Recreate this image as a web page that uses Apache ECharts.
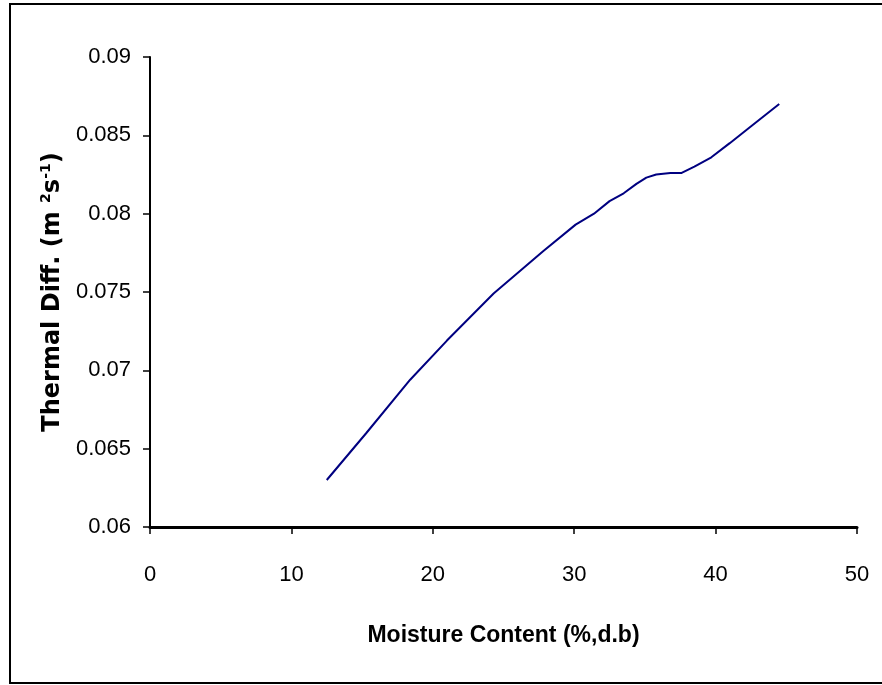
<!DOCTYPE html>
<html>
<head>
<meta charset="utf-8">
<script src="https://cdn.jsdelivr.net/npm/echarts@6/dist/echarts.min.js"></script>
<style>
  html, body { margin: 0; padding: 0; background: #fff; }
  #chart { width: 882px; height: 685px; }
</style>
</head>
<body>
<div id="chart"></div>
<script>
// moisture content (%, d.b) and thermal diffusivity
const moisture = [12.5, 15.3, 18.4, 21.0, 24.3, 27.8, 30.1, 31.4, 32.5, 33.5, 34.4, 35.1, 35.8, 36.8, 37.6, 38.5, 39.7, 41.0, 42.4, 44.5]
const thermalDiff = [0.0630, 0.0660, 0.0694, 0.0719, 0.0749, 0.0776, 0.0793, 0.0800, 0.0808, 0.0813, 0.0819, 0.0823, 0.0825, 0.0826, 0.0826, 0.0830, 0.0836, 0.0845, 0.0855, 0.0870]

const tickFont = "'Liberation Sans Narrow', 'Arial Narrow', 'Liberation Sans', sans-serif"

function getOptions() {
  return {
    animation: false,
    backgroundColor: '#fff',
    grid: {
      left: 150,
      right: 25,
      top: 57,
      bottom: 158
    },
    graphic: [
      {
        type: 'rect',
        shape: { x: 10, y: 4, width: 880, height: 679 },
        style: { fill: 'none', stroke: '#000', lineWidth: 2 },
        silent: true
      }
    ],
    xAxis: {
      type: 'value',
      min: 0,
      max: 50,
      interval: 10,
      name: 'Moisture Content (%,d.b)',
      nameLocation: 'middle',
      nameGap: 97,
      nameTextStyle: {
        color: '#000',
        fontFamily: "'Liberation Sans', Arial, sans-serif",
        fontWeight: 'bold',
        fontSize: 23
      },
      splitLine: { show: false },
      axisLine: { lineStyle: { color: '#000', width: 3 } },
      axisTick: { inside: false, length: 7, lineStyle: { color: '#000', width: 1.5 } },
      axisLabel: {
        color: '#000',
        fontFamily: tickFont,
        fontSize: 22,
        margin: 37
      }
    },
    yAxis: {
      type: 'value',
      min: 0.06,
      max: 0.09,
      interval: 0.005,
      name: '{a|Thermal Diff. (m }{s|2}{a|s}{s|-1}{a|)}',
      nameLocation: 'middle',
      nameRotate: 90,
      nameGap: 78,
      nameTextStyle: {
        rich: {
          a: {
            color: '#000',
            fontFamily: "'DejaVu Sans', sans-serif",
            fontWeight: 'bold',
            fontSize: 24,
            lineHeight: 28
          },
          s: {
            color: '#000',
            fontFamily: "'DejaVu Sans', sans-serif",
            fontWeight: 'bold',
            fontSize: 14,
            lineHeight: 28,
            verticalAlign: 'top'
          }
        }
      },
      splitLine: { show: false },
      axisLine: { show: true, lineStyle: { color: '#000', width: 2 } },
      axisTick: { show: true, inside: false, length: 7, lineStyle: { color: '#000', width: 1.5 } },
      axisLabel: {
        color: '#000',
        fontFamily: tickFont,
        fontSize: 22,
        margin: 19
      }
    },
    series: [
      {
        type: 'line',
        data: moisture.map((m, i) => [m, thermalDiff[i]]),
        showSymbol: false,
        symbol: 'none',
        smooth: false,
        lineStyle: { color: '#000080', width: 2 }
      }
    ]
  }
}

const myChart = echarts.init(document.getElementById('chart'))
myChart.setOption(getOptions())
</script>
</body>
</html>
